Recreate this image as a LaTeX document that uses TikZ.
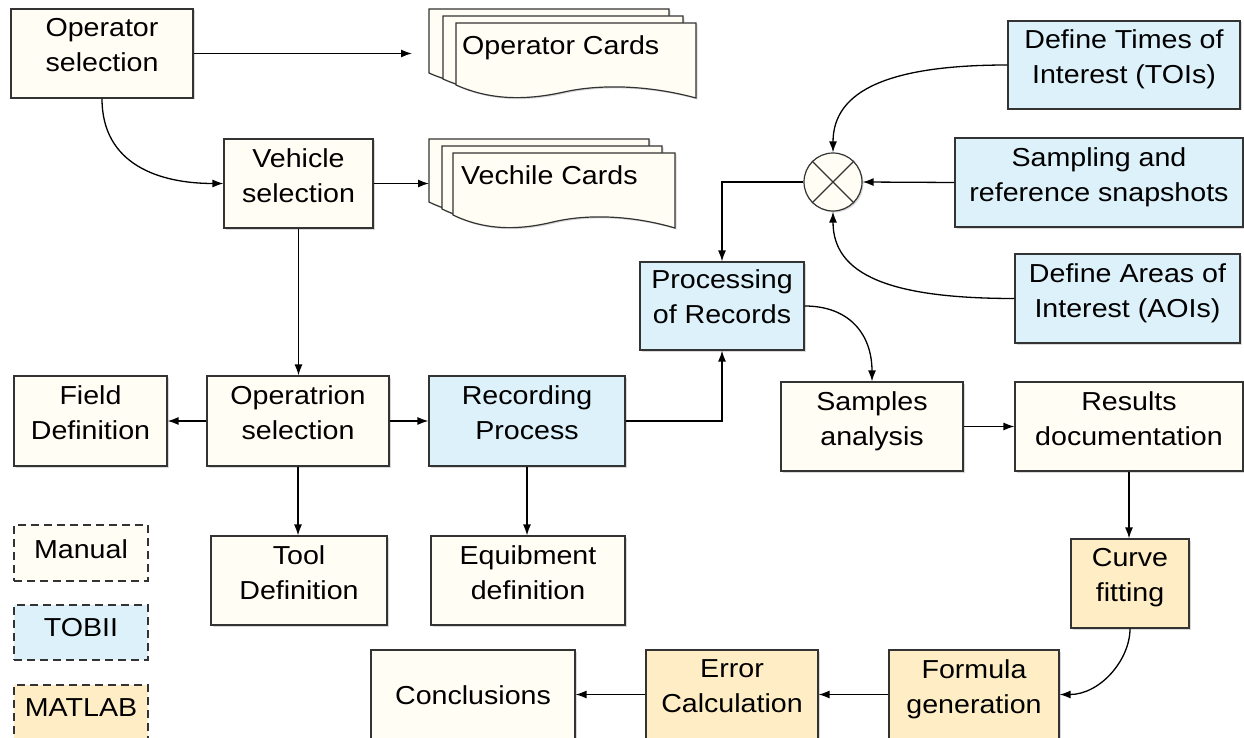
\documentclass[tikz,border=0pt]{standalone}
\usepackage{fontspec}
\setmainfont{Liberation Sans}[FakeStretch=1.1]
\usetikzlibrary{arrows.meta,shadows}
\definecolor{cream}{HTML}{FFFDF4}
\definecolor{tobii}{HTML}{DCF1FA}
\definecolor{matlab}{HTML}{FFEEC5}
\definecolor{edge}{HTML}{333333}
\tikzset{
  box/.style={draw=edge, line width=1.2pt, rectangle, inner sep=0pt,
    drop shadow={shadow xshift=1.5pt, shadow yshift=-1.5pt, opacity=0.3}},
  legbox/.style={draw=edge, line width=1.2pt, dash pattern=on 8pt off 5pt, rectangle, inner sep=0pt},
  txt/.style={inner sep=0pt, align=center, anchor=north, font=\fontsize{26}{35}\selectfont},
  conn/.style={line width=1.3pt, -{Latex[length=11pt,width=8pt]}},
  docst/.style={draw=edge, line width=1.2pt, fill=cream,
    drop shadow={shadow xshift=1.5pt, shadow yshift=-1.5pt, opacity=0.3}},
}
\newcommand\mybox[8]{%
  \node[box, fill=#6, minimum width=#4pt, minimum height=#5pt] (#1) at (#2,#3) {};
  \node[txt] (#1-t) at ([yshift=#7pt]#1.center) {#8};
}
\newcommand\mydoc[4]{%
  \pgfmathsetmacro\dw{#3-#1}
  \draw[docst] (#1,#4-13) -- (#1,#2) -- (#3,#2) -- (#3,#4)
    .. controls (#1+0.8*\dw,#4-13) and (#1+0.6*\dw,#4-14) .. (#1+0.45*\dw,#4-6)
    .. controls (#1+0.3*\dw,#4+2) and (#1+0.15*\dw,#4+3) .. cycle;
}
\begin{document}
\begin{tikzpicture}[x=1pt,y=-1pt]
\useasboundingbox (0,0) rectangle (1244,738);
\clip (0,0) rectangle (1244,738);

% document stacks
\mydoc{429}{9}{669}{86}
\mydoc{443}{16}{683}{92}
\mydoc{456}{23}{696}{98}
\node[txt, anchor=base west] (opcards) at (462,55) {Operator Cards};
\mydoc{429}{139}{649}{215}
\mydoc{442}{146}{662}{222}
\mydoc{453}{153}{675}{228}
\node[txt, anchor=base west] (vcards) at (461,185) {Vechile Cards};
\coordinate (opc-in) at (412,53.5);
\coordinate (vc-in) at (429,183.5);

% boxes
\mybox{opsel}{102}{53.5}{182}{89}{cream}{35.5}{Operator\\selection}
\mybox{vehsel}{298.5}{183.5}{149}{89}{cream}{35.5}{Vehicle\\selection}
\mybox{opnsel}{298}{421}{182}{90}{cream}{36}{Operatrion\\selection}
\mybox{field}{90.5}{421}{153}{90}{cream}{36}{Field\\Definition}
\mybox{rec}{527}{421}{196}{90}{tobii}{36}{Recording\\Process}
\mybox{tool}{299}{580.5}{176}{89}{cream}{35.5}{Tool\\Definition}
\mybox{equ}{528}{580.5}{194}{89}{cream}{35.5}{Equibment\\definition}
\mybox{proc}{722}{306}{164}{88}{tobii}{37}{Processing\\of Records}
\mybox{toi}{1124}{65}{232}{88}{tobii}{36}{Define Times of\\Interest (TOIs)}
\mybox{samp}{1099}{182.5}{288}{89}{tobii}{35.5}{Sampling and\\reference snapshots}
\mybox{aoi}{1127.5}{298.5}{225}{89}{tobii}{35.5}{Define Areas of\\Interest (AOIs)}
\mybox{sa}{872}{426.5}{182}{89}{cream}{35.5}{Samples\\analysis}
\mybox{res}{1129}{426.5}{228}{89}{cream}{35.5}{Results\\documentation}
\mybox{curve}{1130}{583.5}{118}{89}{matlab}{35.5}{Curve\\fitting}
\mybox{form}{974}{694.5}{170}{89}{matlab}{35.5}{Formula\\generation}
\mybox{err}{732}{694.5}{172}{89}{matlab}{35.5}{Error\\Calculation}
\mybox{concl}{473}{694.5}{204}{89}{cream}{9.5}{Conclusions}

% legend
\node[legbox, fill=cream, minimum width=134pt, minimum height=56pt] (lman) at (81,553) {};
\node[txt] (lman-t) at ([yshift=13.5pt]lman.center) {Manual};
\node[legbox, fill=tobii, minimum width=134pt, minimum height=55pt] (ltob) at (81,632.5) {};
\node[txt] (ltob-t) at ([yshift=14pt]ltob.center) {TOBII};
\node[legbox, fill=matlab, minimum width=134pt, minimum height=55pt] (lmat) at (81,712.5) {};
\node[txt] (lmat-t) at ([yshift=14pt]lmat.center) {MATLAB};

% mixer
\node[circle, draw=edge, line width=1.2pt, fill=cream, minimum size=58pt, inner sep=0pt,
  drop shadow={shadow xshift=1.5pt, shadow yshift=-1.5pt, opacity=0.3}] (mix) at (833,182) {};
\draw[line width=1.2pt, edge] (mix.45) -- (mix.225) (mix.135) -- (mix.315);

% connectors
\draw[conn] (opsel.east) -- (opc-in);
\draw[conn] (opsel.south) .. controls (102,165) and (160,183.5) .. (vehsel.west);
\draw[conn] (vehsel.east) -- (vc-in);
\draw[conn] (vehsel.south) -- (vehsel.south |- opnsel.north);
\draw[conn] (opnsel.west) -- (field.east);
\draw[conn] (opnsel.east) -- (rec.west);
\draw[conn] (opnsel.south) -- (opnsel.south |- tool.north);
\draw[conn] (rec.south) -- (rec.south |- equ.north);
\draw[conn] (rec.east) -| (proc.south);
\draw[conn] (mix.west) -| (proc.north);
\draw[conn] (samp.west) -- (mix.east);
\draw[conn] (toi.west) .. controls (890,65) and (833,90) .. (mix.north);
\draw[conn] (aoi.west) .. controls (890,298.5) and (833,275) .. (mix.south);
\draw[conn] (proc.east) .. controls (850,306) and (872,335) .. (sa.north);
\draw[conn] (sa.east) -- (res.west);
\draw[conn] (res.south) -- (res.south |- curve.north);
\draw[conn] (curve.south) .. controls (1130,660) and (1100,694.5) .. (form.east);
\draw[conn] (form.west) -- (err.east);
\draw[conn] (err.west) -- (concl.east);
\end{tikzpicture}
\end{document}
